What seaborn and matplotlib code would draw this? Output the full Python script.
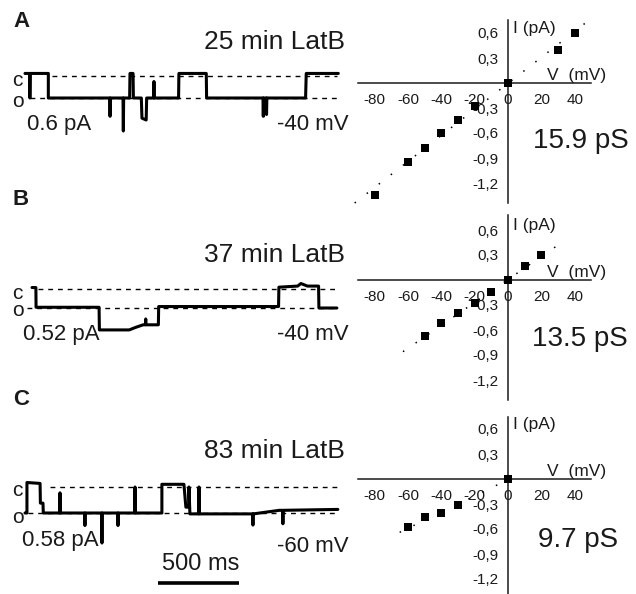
import matplotlib
matplotlib.use("Agg")
import matplotlib.pyplot as plt
import seaborn as sns

sns.set_style("white")
plt.rcParams["font.family"] = ["Liberation Sans", "DejaVu Sans"]

# ---- data ----
panel_letters = ["A", "B", "C"]
times_latb = ["25 min LatB", "37 min LatB", "83 min LatB"]
amp_labels = ["0.6 pA", "0.52 pA", "0.58 pA"]
amps = [0.6, 0.52, 0.58]
holding = ["-40 mV", "-40 mV", "-60 mV"]
conductance = ["15.9 pS", "13.5 pS", "9.7 pS"]

# single channel traces: time (ms), current (pA), closed level = 0
trace_a_t = [0, 28, 30, 33, 144, 144, 523, 525, 527, 605, 607, 609, 646, 648, 667, 669,
             718, 722, 748, 751, 794, 796, 798, 948, 950, 1119, 1121, 1469, 1471, 1473,
             1489, 1491, 1493, 1732, 1736, 1934]
trace_a_i = [0.07, 0.07, -0.6, 0.07, 0.07, -0.6, -0.6, -1.1, -0.6, -0.6, -1.5, -0.6, -0.6, 0.07,
             0.07, -0.6, -0.6, -1.15, -1.2, -0.6, -0.6, -0.15, -0.6, -0.6, 0.07, 0.07, -0.6,
             -0.6, -1.1, -0.6, -0.6, -1.05, -0.6, -0.6, 0.07, 0.07]
trace_b_t = [0, 24, 25, 414, 416, 600, 640, 686, 700, 702, 704, 780, 782, 1522, 1524, 1640,
             1660, 1700, 1769, 1771, 1882]
trace_b_i = [0.04, 0.04, -0.5, -0.5, -1.12, -1.12, -1.05, -0.98, -0.98, -0.82, -0.98, -0.98,
             -0.48, -0.48, 0.05, 0.08, 0.15, 0.08, 0.08, -0.52, -0.52]
trace_c_t = [0, 12, 12, 93, 95, 111, 113, 214, 216, 218, 368, 370, 372, 473, 475, 477, 572,
             574, 576, 677, 679, 681, 845, 845, 981, 993, 1010, 1012, 1018, 1072, 1074, 1076,
             1405, 1407, 1409, 1570, 1590, 1592, 1594, 1931]
trace_c_i = [-0.58, -0.58, 0.1, 0.08, -0.36, -0.36, -0.58, -0.58, -0.13, -0.58, -0.58, -0.86,
             -0.58, -0.58, -1.25, -0.58, -0.58, -0.86, -0.58, -0.58, 0.0, -0.58, -0.58, 0.06,
             0.06, -0.45, -0.45, 0.0, -0.6, -0.6, 0.0, -0.6, -0.6, -0.85, -0.6, -0.52, -0.52,
             -0.82, -0.52, -0.5]
traces_t = [trace_a_t, trace_b_t, trace_c_t]
traces_i = [trace_a_i, trace_b_i, trace_c_i]
scale_bar_ms = 500

# I-V points: voltage (mV), current (pA)
iv_a_v = [-80, -60, -50, -40, -30, -20, 0, 30, 40]
iv_a_i = [-1.34, -0.95, -0.78, -0.60, -0.44, -0.27, 0.0, 0.40, 0.60]
iv_b_v = [-50, -40, -30, -20, -10, 0, 10, 20]
iv_b_i = [-0.67, -0.52, -0.39, -0.28, -0.14, 0.0, 0.17, 0.30]
iv_c_v = [-60, -50, -40, -30, 0]
iv_c_i = [-0.57, -0.46, -0.41, -0.31, 0.0]
iv_v = [iv_a_v, iv_b_v, iv_c_v]
iv_i = [iv_a_i, iv_b_i, iv_c_i]

# fitted lines (end points)
fit_v = [[-92, 49], [-63, 33], [-65, 5]]
fit_i = [[-1.44, 0.76], [-0.86, 0.46], [-0.64, 0.04]]

x_major = [-80, -60, -40, -20, 0, 20, 40]
y_major = [-1.2, -0.9, -0.6, -0.3, 0.3, 0.6]
y_major_labels = ["-1,2", "-0,9", "-0,6", "-0,3", "0,3", "0,6"]

# ---- layout (pixels) ----
W, H = 636, 594
fig = plt.figure(figsize=(W / 100, H / 100), dpi=100)


def ax_px(x0, y0, x1, y1):
    a = fig.add_axes([x0 / W, 1 - y1 / H, (x1 - x0) / W, (y1 - y0) / H])
    a.patch.set_alpha(0)
    return a


def txt(x, y, s, size, ha="left", va="baseline", **kw):
    fig.text(x / W, 1 - y / H, s, fontsize=size, ha=ha, va=va, color="#1a1a1a", **kw)


ms_per_px = 500 / 81
# start px, closed px, open px, axes top, axes bottom, c-dash start, o-dash start
rows = [
    dict(start=25, c=76, o=98, top=10, bot=150, cd=52, od=30),
    dict(start=32, c=289, o=308, top=220, bot=360, cd=38, od=27),
    dict(start=25, c=487, o=513, top=420, bot=594, cd=50, od=28),
]
letter_y = [27, 205, 405]
latb_y = [49, 262, 458]
amp_y = [130, 340, 546]
amp_x = [27, 23, 22]
mv_y = [130, 340, 552]
c_y = [86, 299, 496]
o_y = [107, 316, 523]

# I-V axes: origin pixel row for each panel
iv_origin_y = [83, 280, 479]
iv_origin_x = 508
px_per_mv = 200 / 120
px_per_pa = 25 / 0.3
iv_top = [0, 205, 405]
iv_bot = [210, 400, 594]
iv_spine_y = [(-1.44, 0.76), (-1.44, 0.78), (-1.40, 0.74)]
ps_y = [148, 346, 547]
ps_x = [533, 532, 538]

for k in range(3):
    r = rows[k]
    ax = ax_px(0, r["top"], 350, r["bot"])
    pa_px = amps[k] / (r["o"] - r["c"])
    ax.set_xlim((0 - r["start"]) * ms_per_px, (350 - r["start"]) * ms_per_px)
    ax.set_ylim(-(r["bot"] - r["c"]) * pa_px, (r["c"] - r["top"]) * pa_px)
    ax.axis("off")
    t_end = (337 - r["start"]) * ms_per_px
    ax.hlines(0, (r["cd"] - r["start"]) * ms_per_px, t_end, color="black",
              lw=1.0, linestyles=(0, (3.5, 3.5)))
    ax.hlines(-amps[k], (r["od"] - r["start"]) * ms_per_px, t_end, color="black",
              lw=1.0, linestyles=(0, (3.5, 3.5)))
    sns.lineplot(x=traces_t[k], y=traces_i[k], estimator=None, sort=False,
                 color="black", lw=2.2, ax=ax)
    if k == 2:
        bar_y = -(583 - r["c"]) * pa_px
        bar_x0 = (158 - r["start"]) * ms_per_px
        ax.plot([bar_x0, bar_x0 + scale_bar_ms], [bar_y, bar_y], color="black", lw=2.6,
                solid_capstyle="butt")
        txt(162, 570, f"{scale_bar_ms} ms", 17)

    txt(13, letter_y[k], panel_letters[k], 16, weight="bold")
    txt(345, latb_y[k], times_latb[k], 19, ha="right")
    txt(amp_x[k], amp_y[k], amp_labels[k], 16)
    txt(349, mv_y[k], holding[k], 16, ha="right")
    txt(12, c_y[k], "c", 15)
    txt(12, o_y[k], "o", 15)

    # I-V plot
    iv = ax_px(340, iv_top[k], 636, iv_bot[k])
    oy = iv_origin_y[k]
    iv.set_xlim((340 - iv_origin_x) / px_per_mv, (636 - iv_origin_x) / px_per_mv)
    iv.set_ylim((oy - iv_bot[k]) / px_per_pa, (oy - iv_top[k]) / px_per_pa)
    for s in ["top", "right"]:
        iv.spines[s].set_visible(False)
    iv.spines["left"].set_position(("data", 0))
    iv.spines["bottom"].set_position(("data", 0))
    iv.spines["left"].set_bounds(*iv_spine_y[k])
    iv.spines["bottom"].set_bounds(-90, 50)
    for s in ["left", "bottom"]:
        iv.spines[s].set_linewidth(1.1)
        iv.spines[s].set_color("#1a1a1a")
    iv.set_xticks(x_major)
    iv.set_xticklabels([str(v) for v in x_major])
    iv.set_xticks(list(range(-90, 51, 10)), minor=True)
    iv.set_yticks(y_major)
    iv.set_yticklabels(y_major_labels)
    lo, hi = iv_spine_y[k]
    iv.set_yticks([v for v in [-1.35, -1.05, -0.75, -0.45, -0.15, 0.15, 0.45, 0.75]
                   if lo <= v <= hi], minor=True)
    iv.tick_params(which="major", direction="out", length=5, width=1.1, labelsize=11,
                   color="#1a1a1a", labelcolor="#1a1a1a", pad=2)
    iv.tick_params(which="minor", direction="out", length=3, width=1.0, color="#1a1a1a")
    sns.lineplot(x=fit_v[k], y=fit_i[k], estimator=None, sort=False, color="black",
                 lw=1.1, linestyle=(0, (1, 9)), ax=iv)
    sns.scatterplot(x=iv_v[k], y=iv_i[k], marker="s", s=34, color="black",
                    edgecolor="black", linewidth=0, ax=iv, zorder=3)
    iv.set_xlabel("")
    iv.set_ylabel("")
    txt(513, oy - 50, "I (pA)", 12.5)
    txt(606, oy - 3, "V  (mV)", 12.5, ha="right")
    txt(ps_x[k], ps_y[k], conductance[k], 20)

fig.savefig("out.png", dpi=100)
